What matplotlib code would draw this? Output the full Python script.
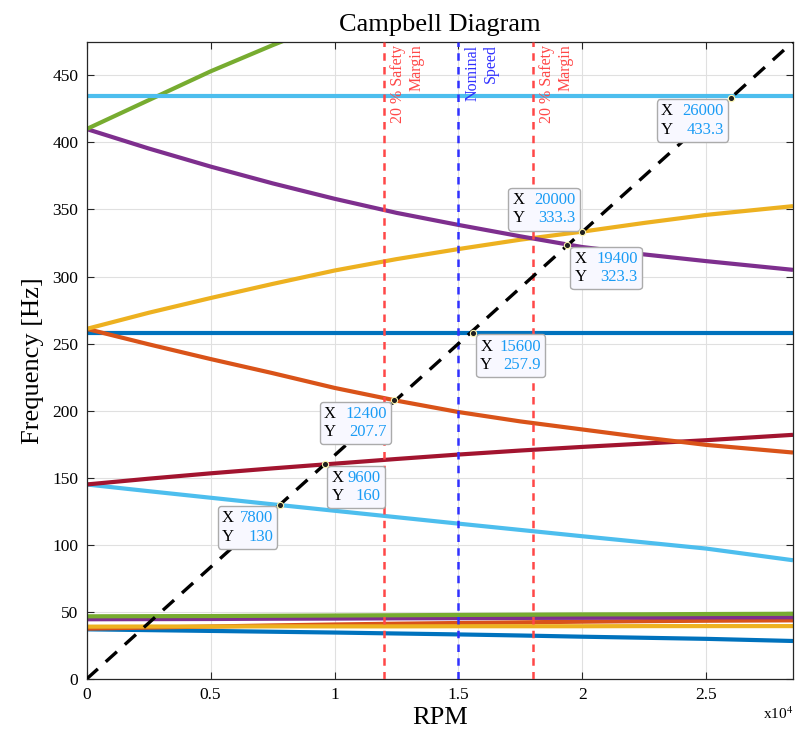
import matplotlib
matplotlib.use('Agg')
import matplotlib.pyplot as plt
from matplotlib.offsetbox import TextArea, HPacker, AnnotationBbox

plt.rcParams['font.family'] = ['Liberation Serif', 'DejaVu Serif']
plt.rcParams['mathtext.fontset'] = 'stix'

# RPM grid the modes were read at
rpm = [0, 2500, 5000, 7500, 10000, 12500, 15000, 17500, 20000, 22500, 25000, 28500]

# natural frequencies [Hz] per mode
modes = [
    [37.0, 36.4, 35.8, 35.2, 34.6, 33.9, 33.2, 32.4, 31.5, 30.7, 29.9, 28.3],
    [37.5, 38.3, 39.1, 39.9, 40.6, 41.2, 41.7, 42.2, 42.7, 43.1, 43.4, 43.7],
    [39.0, 39.1, 39.1, 39.2, 39.2, 39.2, 39.3, 39.3, 39.3, 39.4, 39.4, 39.4],
    [44.5, 44.6, 44.7, 44.9, 45.0, 45.2, 45.3, 45.5, 45.6, 45.8, 45.9, 46.0],
    [46.7, 46.8, 46.9, 47.1, 47.3, 47.5, 47.7, 47.9, 48.1, 48.2, 48.4, 48.6],
    [145.0, 140.0, 135.1, 130.2, 125.4, 120.6, 115.8, 111.1, 106.4, 101.8, 97.2, 88.5],
    [145.0, 149.3, 153.3, 157.0, 160.5, 164.0, 167.3, 170.3, 173.0, 175.5, 178.0, 182.0],
    [257.9, 257.9, 257.9, 257.9, 257.9, 257.9, 257.9, 257.9, 257.9, 257.9, 257.9, 257.9],
    [261.0, 249.5, 238.5, 228.0, 217.0, 207.5, 199.0, 192.0, 186.0, 180.0, 174.5, 168.8],
    [261.0, 273.0, 284.0, 294.5, 304.5, 313.0, 320.5, 327.5, 333.5, 340.0, 346.0, 352.5],
    [410.0, 395.5, 382.0, 369.5, 358.0, 347.5, 338.5, 330.0, 322.0, 316.5, 311.5, 305.0],
    [410.0, 431.5, 453.0, 472.5, 491.0, 509.5, 527.5, 545.0, 562.0, 578.5, 594.5, 617.0],
    [434.5, 434.5, 434.5, 434.5, 434.5, 434.5, 434.5, 434.5, 434.5, 434.5, 434.5, 434.5],
]

# MATLAB default colour order
colors = ['#0072BD', '#D95319', '#EDB120', '#7E2F8E', '#77AC30', '#4DBEEE', '#A2142F']

# 1X excitation line
exc_rpm = [0, 28500]
exc_hz = [0, 475]

# speed markers
nominal = 15000
margins = [12000, 18000]

# data tips: rpm, Hz, label x, label y
tips = [
    (26000, 433.3, '26000', '433.3'),
    (20000, 333.3, '20000', '333.3'),
    (19400, 323.3, '19400', '323.3'),
    (15600, 257.9, '15600', '257.9'),
    (12400, 207.7, '12400', '207.7'),
    (9600, 160.0, '9600', '160'),
    (7800, 130.0, '7800', '130'),
]
# where each tip box sits relative to its point, and the gap inside it
tip_corner = ['ll', 'ul', 'lr', 'lr', 'll', 'lr', 'll']
tip_sep = [7, 7, 7, 5, 7, 3, 4]

fig = plt.figure(figsize=(7.99, 7.34), dpi=100)
ax = fig.add_axes([0.1085, 0.075, 0.884, 0.868])

for i, f in enumerate(modes):
    ax.plot(rpm, f, color=colors[i % len(colors)], lw=3, solid_capstyle='butt')

ax.plot(exc_rpm, exc_hz, color='k', lw=2.4, linestyle=(0, (4.5, 3.2)), zorder=4)

red = '#FF4747'
blue = '#3030FF'
for m in margins:
    ax.axvline(m, color=red, lw=1.8, linestyle=(0, (3, 2.5)), zorder=3)
    ax.annotate('20 % Safety\nMargin', xy=(m, 475), xytext=(4.5, -2), textcoords='offset points',
                rotation=90, ha='left', va='top', multialignment='right', color=red, fontsize=11.5)
ax.axvline(nominal, color=blue, lw=1.8, linestyle=(0, (3, 2.5)), zorder=3)
ax.annotate('Nominal\nSpeed', xy=(nominal, 475), xytext=(4.5, -2), textcoords='offset points',
            rotation=90, ha='left', va='top', multialignment='right', color=blue, fontsize=11.5)

corner = {'ll': ((1, 1), (-5, -4)), 'ul': ((1, 0), (-5, 4)),
          'lr': ((0, 1), (5, -4)), 'ur': ((0, 0), (5, 4))}
for (x, y, sx, sy), c, sep in zip(tips, tip_corner, tip_sep):
    ax.plot(x, y, 'o', ms=4.5, mfc='#202020', mec='#FFF8B0', mew=0.8, zorder=8)
    lab = TextArea('X\nY', textprops=dict(color='k', fontsize=12))
    val = TextArea(sx + '\n' + sy, textprops=dict(color='#1A9CF5', fontsize=12,
                                                   multialignment='right'))
    pack = HPacker(children=[lab, val], sep=sep, pad=0, align='center')
    al, off = corner[c]
    ab = AnnotationBbox(pack, (x, y), xybox=off, xycoords='data', boxcoords='offset points',
                        box_alignment=al, frameon=True, pad=0.3,
                        bboxprops=dict(boxstyle='round,pad=0.3,rounding_size=0.25',
                                       fc='#F8F8FF', ec='#ABABAB', lw=1))
    ab.set_zorder(7)
    ax.add_artist(ab)

ax.set_xlim(0, 28500)
ax.set_ylim(0, 475)
ax.set_xticks([0, 5000, 10000, 15000, 20000, 25000])
ax.set_xticklabels(['0', '0.5', '1', '1.5', '2', '2.5'])
ax.set_yticks(range(0, 451, 50))
ax.tick_params(direction='in', top=True, right=True, length=5, width=0.8,
               labelsize=12.5, color='#262626', pad=6)
ax.grid(True, color='#E0E0E0', lw=0.8)
ax.set_axisbelow(True)
for s in ax.spines.values():
    s.set_color('#262626')
    s.set_linewidth(0.9)

ax.set_title('Campbell Diagram', fontsize=19, pad=8)
ax.set_xlabel('RPM', fontsize=19, labelpad=3)
ax.set_ylabel('Frequency [Hz]', fontsize=19, labelpad=6)
ax.text(1.0, -0.042, r'x10$^{4}$', transform=ax.transAxes, ha='right', va='top', fontsize=11)

fig.savefig('out.png', dpi=100)
